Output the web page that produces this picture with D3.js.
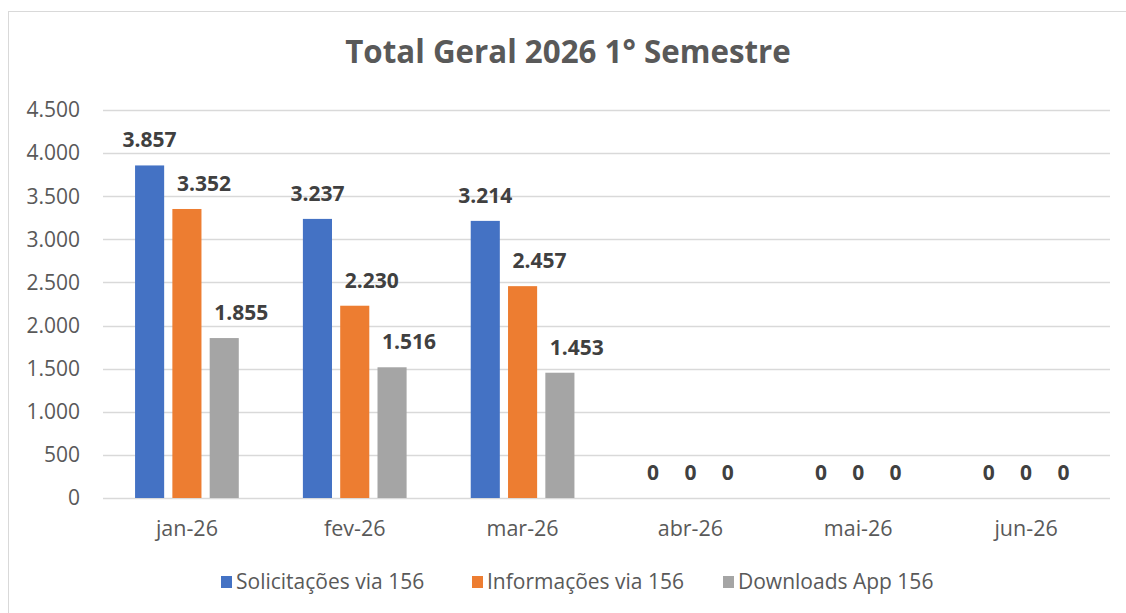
<!DOCTYPE html>
<html>
<head>
<meta charset="utf-8">
<title>Total Geral 2026 1° Semestre</title>
<script src="https://cdn.jsdelivr.net/npm/d3@7"></script>
<style>
  body { margin: 0; background: #fff; }
  text { font-family: "Open Sans", sans-serif; }
</style>
</head>
<body>
<svg id="chart" width="1126" height="613"></svg>
<script>
// data
var months = ["jan-26", "fev-26", "mar-26", "abr-26", "mai-26", "jun-26"];
var seriesNames = ["Solicitações via 156", "Informações via 156", "Downloads App 156"];
var solicitacoes = [3857, 3237, 3214, 0, 0, 0];
var informacoes = [3352, 2230, 2457, 0, 0, 0];
var downloads = [1855, 1516, 1453, 0, 0, 0];
var yTicks = [0, 500, 1000, 1500, 2000, 2500, 3000, 3500, 4000, 4500];

var colors = ["#4472C4", "#ED7D31", "#A5A5A5"];
var allSeries = [solicitacoes, informacoes, downloads];

var svg = d3.select("#chart");

// chart frame (only top/left edges show in the shot)
svg.append("rect")
  .attr("x", 8.5).attr("y", 11.5)
  .attr("width", 1130).attr("height", 620)
  .attr("fill", "#fff").attr("stroke", "#D9D9D9");

var plotLeft = 103, plotRight = 1110, plotTop = 110, plotBottom = 498;

var x0 = d3.scaleBand().domain(months).range([plotLeft, plotRight])
  .paddingInner(0.382).paddingOuter(0.191);
var x1 = d3.scaleBand().domain(d3.range(3)).range([0, x0.bandwidth()])
  .paddingInner(0.22);
var y = d3.scaleLinear().domain([0, 4500]).range([plotBottom, plotTop]);

var fmt = d3.formatLocale({ decimal: ",", thousands: ".", grouping: [3], currency: ["", ""] }).format(",d");

// gridlines
svg.append("g").selectAll("line").data(yTicks).join("line")
  .attr("x1", plotLeft).attr("x2", plotRight)
  .attr("y1", function(d) { return Math.round(y(d)) + 0.5; })
  .attr("y2", function(d) { return Math.round(y(d)) + 0.5; })
  .attr("stroke", "#D9D9D9").attr("stroke-width", 1.3);

// y axis labels
svg.append("g").selectAll("text").data(yTicks).join("text")
  .attr("x", 80).attr("y", function(d) { return y(d); })
  .attr("dy", "0.35em").attr("text-anchor", "end")
  .attr("font-size", 21).attr("fill", "#595959")
  .text(function(d) { return fmt(d); });

// x axis labels
svg.append("g").selectAll("text").data(months).join("text")
  .attr("x", function(d) { return x0(d) + x0.bandwidth() / 2; })
  .attr("y", 536).attr("text-anchor", "middle")
  .attr("font-size", 21.5).attr("fill", "#595959")
  .text(function(d) { return d; });

// bars + labels
var groups = svg.append("g").selectAll("g").data(months).join("g")
  .attr("transform", function(d) { return "translate(" + x0(d) + ",0)"; });

function cells(d, i) {
  return allSeries.map(function(s, k) { return { k: k, v: s[i] }; });
}

groups.selectAll("rect").data(cells).join("rect")
  .attr("x", function(d) { return x1(d.k); })
  .attr("width", x1.bandwidth())
  .attr("y", function(d) { return y(d.v); })
  .attr("height", function(d) { return y(0) - y(d.v); })
  .attr("fill", function(d) { return colors[d.k]; });

// labels of the 2nd/3rd series were nudged right in the original
groups.selectAll("text").data(cells).join("text")
  .attr("x", function(d) {
    var nudge = (d.k > 0 && d.v > 0) ? 17 : 0;
    return x1(d.k) + x1.bandwidth() / 2 + nudge;
  })
  .attr("y", function(d) { return y(d.v) - 18; })
  .attr("text-anchor", "middle")
  .attr("font-size", 21).attr("font-weight", "bold").attr("fill", "#404040")
  .text(function(d) { return fmt(d.v); });

// title
svg.append("text")
  .attr("x", 568).attr("y", 63).attr("text-anchor", "middle")
  .attr("font-size", 31.3).attr("font-weight", "bold").attr("fill", "#595959")
  .text("Total Geral 2026 1° Semestre");

// legend
var legendX = [221, 472, 723];
var legend = svg.append("g").selectAll("g").data(seriesNames).join("g")
  .attr("transform", function(d, i) { return "translate(" + legendX[i] + ",576)"; });
legend.append("rect").attr("width", 11).attr("height", 12)
  .attr("fill", function(d, i) { return colors[i]; });
legend.append("text").attr("x", 15).attr("y", 6).attr("dy", "0.35em")
  .attr("font-size", 21).attr("fill", "#595959")
  .text(function(d) { return d; });
</script>
</body>
</html>
